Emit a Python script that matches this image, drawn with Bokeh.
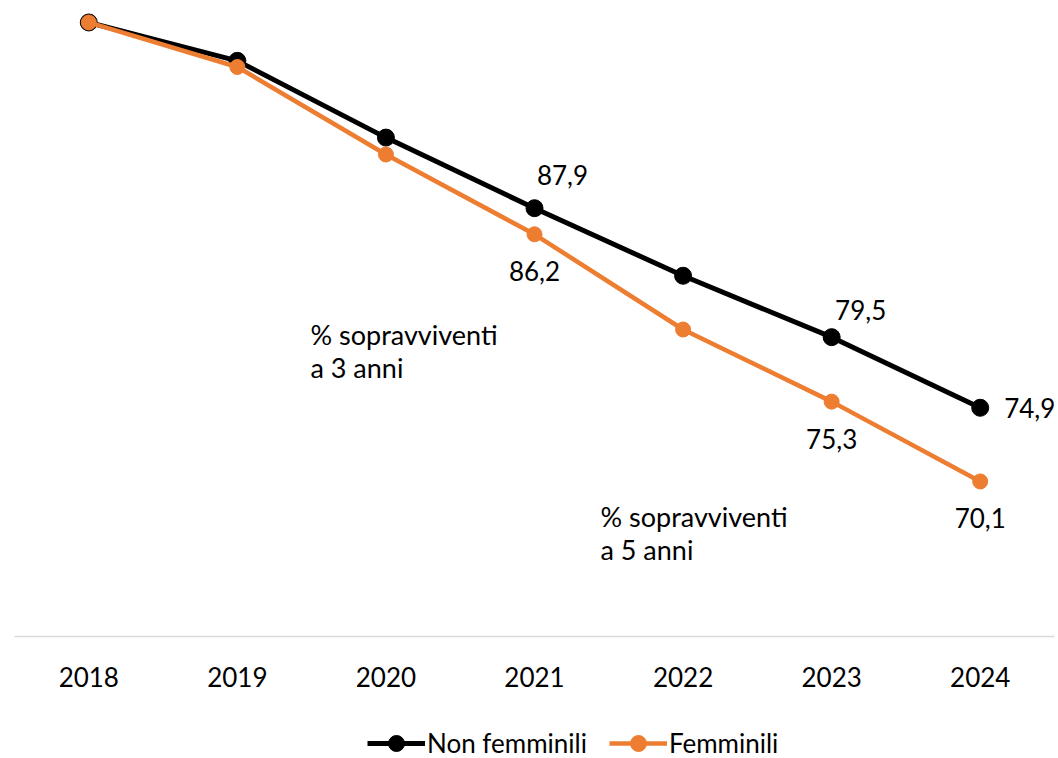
from bokeh.plotting import figure
from bokeh.layouts import column
from bokeh.models import ColumnDataSource, FactorRange, Range1d, Label, Legend, LegendItem
from bokeh.embed import file_html
from bokeh.resources import INLINE
from bokeh.core.properties import value

# ---- data ----
years = ["2018", "2019", "2020", "2021", "2022", "2023", "2024"]
non_femminili = [100.0, 97.5, 92.5, 87.9, 83.5, 79.5, 74.9]
femminili = [100.0, 97.1, 91.4, 86.2, 80.0, 75.3, 70.1]
labelled_years = ["2021", "2023", "2024"]
series_names = ["Non femminili", "Femminili"]
annotation_texts = ["% sopravviventi\na 3 anni", "% sopravviventi\na 5 anni"]

FONT = "Lato"
FS = "26px"
BLACK = "#000000"
ORANGE = "#ED7D31"

src = ColumnDataSource(dict(year=years, nf=non_femminili, f=femminili))

p = figure(x_range=FactorRange(*years), y_range=Range1d(60, 100.91),
           frame_width=1040, frame_height=628,
           min_border_left=14, min_border_right=4, min_border_top=8, min_border_bottom=70,
           output_backend="svg", toolbar_location=None, y_axis_location=None)
p.outline_line_color = None
p.xgrid.visible = False
p.ygrid.visible = False
p.background_fill_color = "white"
p.border_fill_color = "white"

ax = p.xaxis[0]
ax.axis_line_color = "#d9d9d9"
ax.axis_line_width = 1.5
ax.major_tick_line_color = None
ax.minor_tick_line_color = None
ax.major_label_text_font = FONT
ax.major_label_text_font_size = FS
ax.major_label_text_color = "#000000"
ax.major_label_standoff = 24

LINE_STYLES = [dict(line_color=BLACK, line_width=5), dict(line_color=ORANGE, line_width=4.5)]
MARK_STYLES = [dict(size=17, fill_color=BLACK, line_color=BLACK),
               dict(size=15, fill_color=ORANGE, line_color=ORANGE)]

p.line("year", "nf", source=src, **LINE_STYLES[0])
p.scatter("year", "nf", source=src, **MARK_STYLES[0])
p.line("year", "f", source=src, **LINE_STYLES[1])
p.scatter("year", "f", source=src, **MARK_STYLES[1])

def fmt(v):
    return f"{v:.1f}".replace(".", ",")

idx = [years.index(y) for y in labelled_years]
# data labels, black series (above-right, last one to the right)
nf_offsets = [(28, -33, "center"), (29, -27, "center"), (24, 0, "left")]
for (dx, dy, al), i in zip(nf_offsets, idx):
    s = ColumnDataSource(dict(x=[years[i]], y=[non_femminili[i]], t=[fmt(non_femminili[i])]))
    p.text("x", "y", text="t", source=s, x_offset=dx, y_offset=dy, text_align=al,
           text_baseline="middle", text_font=value(FONT), text_font_size=FS, text_color=BLACK)
# data labels, orange series (below)
for i in idx:
    s = ColumnDataSource(dict(x=[years[i]], y=[femminili[i]], t=[fmt(femminili[i])]))
    p.text("x", "y", text="t", source=s, x_offset=0, y_offset=37, text_align="center",
           text_baseline="middle", text_font=value(FONT), text_font_size=FS, text_color=BLACK)

ann_pos = [(1.992, 78.60), (3.944, 66.75)]
for (x, y), t in zip(ann_pos, annotation_texts):
    p.add_layout(Label(x=x, y=y, text=t, text_align="left", text_baseline="middle",
                       text_font=FONT, text_font_size="27px", text_color=BLACK,
                       text_line_height=1.015))

# ---- legend strip under the chart ----
lg = figure(x_range=Range1d(0, 1), y_range=Range1d(0, 1), width=1058, height=52,
            min_border_left=0, min_border_right=0, min_border_top=0, min_border_bottom=0,
            output_backend="svg", toolbar_location=None,
            x_axis_location=None, y_axis_location=None)
lg.outline_line_color = None
lg.xgrid.visible = False
lg.ygrid.visible = False
items = []
for k, name in enumerate(series_names):
    # off-range placeholder points: only the legend swatch is visible
    hidden = ColumnDataSource(dict(x=[-10, -9], y=[-10, -9]))
    r_line = lg.line("x", "y", source=hidden, **LINE_STYLES[k])
    r_mark = lg.scatter("x", "y", source=hidden, **MARK_STYLES[k])
    items.append(LegendItem(label=name, renderers=[r_line, r_mark]))
legend = Legend(items=items, location=(353, -5), orientation="horizontal",
                glyph_width=58, glyph_height=40, label_standoff=2, spacing=22,
                padding=0, margin=0, border_line_color=None, background_fill_alpha=0,
                label_text_font=FONT, label_text_font_size=FS, label_text_color=BLACK,
                label_text_line_height=1.0)
lg.add_layout(legend, "center")

open("out.html", "w").write(file_html(column(p, lg, spacing=0), INLINE))
